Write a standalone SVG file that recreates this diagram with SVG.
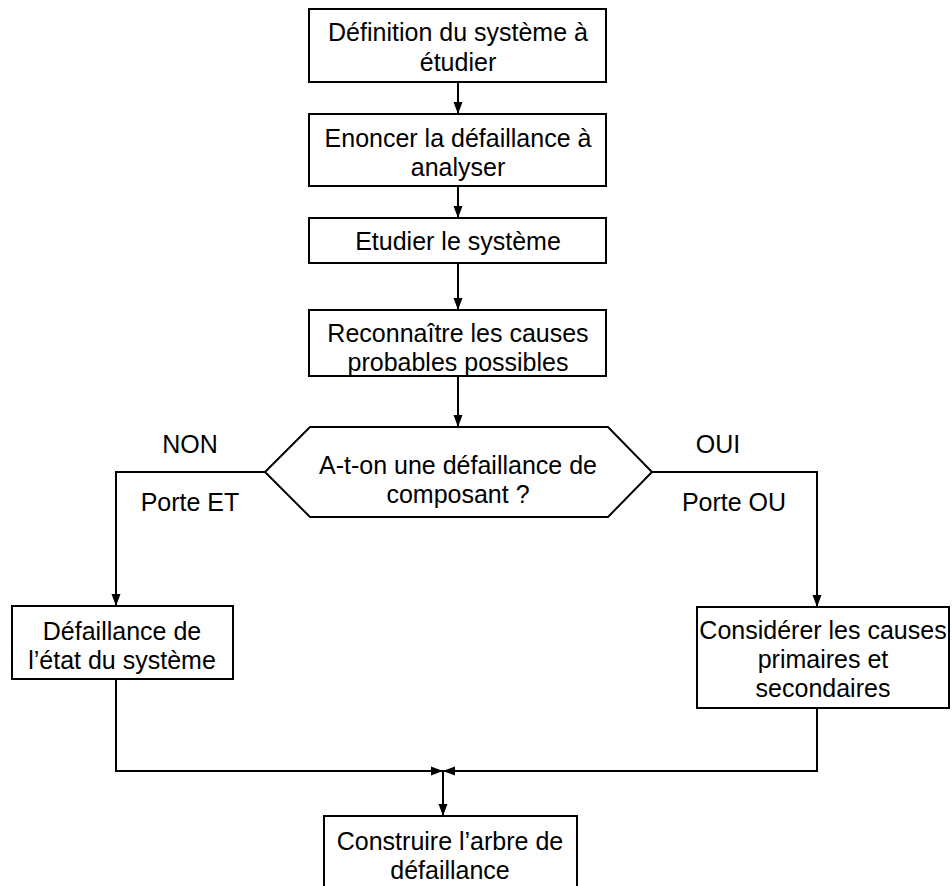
<svg xmlns="http://www.w3.org/2000/svg" width="952" height="886" viewBox="0 0 952 886">
<style>
.box{fill:#fff;stroke:#000;stroke-width:2}
.ln{fill:none;stroke:#000;stroke-width:2}
text{font-family:"Liberation Sans",Arial,sans-serif;font-size:25px;fill:#000;text-anchor:middle}
</style>
<defs>
<marker id="ah" markerUnits="userSpaceOnUse" markerWidth="12" markerHeight="12" viewBox="0 0 12 12" refX="12" refY="6" orient="auto">
<path d="M0,1.5 L12,6 L0,10.5 Z" fill="#000"/>
</marker>
</defs>
<rect width="952" height="886" fill="#fff"/>
<g id="connectors">
<line class="ln" x1="458" y1="82" x2="458" y2="114" marker-end="url(#ah)"/>
<line class="ln" x1="458" y1="186" x2="458" y2="218" marker-end="url(#ah)"/>
<line class="ln" x1="458" y1="263" x2="458" y2="310" marker-end="url(#ah)"/>
<line class="ln" x1="458" y1="376" x2="458" y2="427" marker-end="url(#ah)"/>
<polyline class="ln" points="265,472 116,472 116,606" marker-end="url(#ah)"/>
<polyline class="ln" points="652,472 817,472 817,607" marker-end="url(#ah)"/>
<polyline class="ln" points="116,679 116,771 443,771" marker-end="url(#ah)"/>
<polyline class="ln" points="817,708 817,771 443,771" marker-end="url(#ah)"/>
<line class="ln" x1="443" y1="771" x2="443" y2="816" marker-end="url(#ah)"/>
</g>
<g id="n1"><rect class="box" x="309" y="9" width="297" height="73"/><text x="458" y="41">Définition du système à</text><text x="458" y="71">étudier</text></g>
<g id="n2"><rect class="box" x="309" y="114" width="297" height="72"/><text x="458" y="147">Enoncer la défaillance à</text><text x="458" y="176">analyser</text></g>
<g id="n3"><rect class="box" x="309" y="218" width="297" height="45"/><text x="458" y="250">Etudier le système</text></g>
<g id="n4"><rect class="box" x="309" y="310" width="297" height="66"/><text x="458" y="342">Reconnaître les causes</text><text x="458" y="371">probables possibles</text></g>
<g id="n5"><polygon class="box" points="265,472 310,427 608,427 652,472 608,517 310,517"/><text x="458" y="474">A-t-on une défaillance de</text><text x="458" y="503">composant ?</text></g>
<g id="labels"><text x="190" y="453">NON</text><text x="190" y="511">Porte ET</text><text x="718" y="453">OUI</text><text x="734" y="511">Porte OU</text></g>
<g id="n6"><rect class="box" x="12" y="606" width="221" height="73"/><text x="122" y="640">Défaillance de</text><text x="122" y="669">l’état du système</text></g>
<g id="n7"><rect class="box" x="697" y="607" width="252" height="101"/><text x="823" y="639">Considérer les causes</text><text x="823" y="668">primaires et</text><text x="823" y="697">secondaires</text></g>
<g id="n8"><rect class="box" x="324" y="816" width="253" height="80"/><text x="450" y="850">Construire l’arbre de</text><text x="450" y="879">défaillance</text></g>
</svg>
